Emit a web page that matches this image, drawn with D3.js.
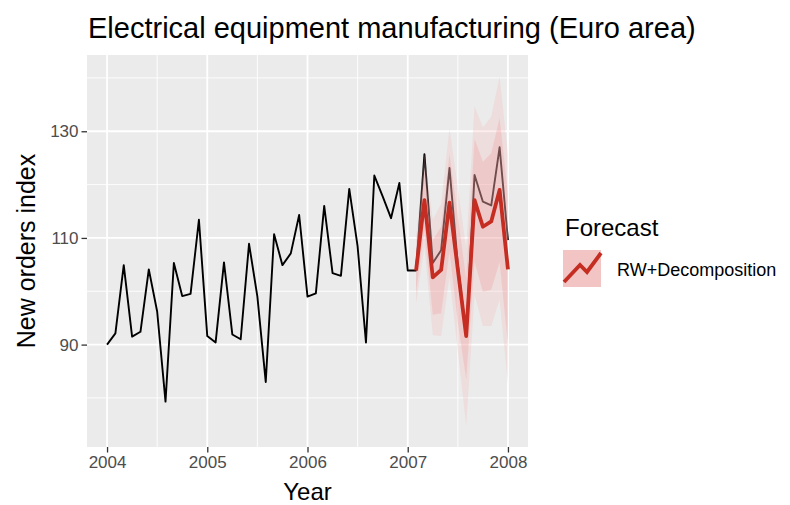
<!DOCTYPE html>
<html>
<head>
<meta charset="utf-8">
<script src="https://cdn.jsdelivr.net/npm/d3@7"></script>
<style>
  body { margin: 0; background: #fff; }
  text { font-family: "Liberation Sans", Arial, sans-serif; }
</style>
</head>
<body>
<div id="chart"></div>
<script>
// observed series, monthly Jan 2004 - Jan 2008
var actual = [
  90.0, 92.1, 104.9, 91.5, 92.4, 104.1, 96.2, 79.3, 105.3, 99.1, 99.5, 113.4,
  91.6, 90.4, 105.4, 91.9, 91.0, 108.9, 99.0, 83.0, 110.7, 104.9, 107.1, 114.3,
  99.0, 99.6, 116.0, 103.4, 102.9, 119.2, 108.4, 90.4, 121.7, 117.8, 113.7, 120.3,
  103.9, 103.9, 125.7, 105.3, 107.7, 123.1, 105.0, 92.0, 121.8, 116.8, 116.1, 127.0,
  109.6
];
// forecast Feb 2007 - Jan 2008
var fcMean = [103.9, 117.1, 102.6, 104.0, 116.6, 104.1, 91.6, 117.1, 112.1, 113.1, 119.0, 104.1];
var lo80 = [99.8, 111.4, 95.6, 95.9, 107.5, 94.2, 83.5, 105.6, 99.9, 100.3, 105.5, 90.0];
var hi80 = [108.0, 122.8, 109.6, 112.1, 125.7, 114.0, 102.3, 128.6, 124.3, 125.9, 132.5, 118.2];
var lo95 = [97.7, 108.3, 91.8, 91.6, 102.7, 88.9, 74.8, 99.5, 93.5, 93.5, 98.4, 82.6];
var hi95 = [110.1, 125.9, 113.4, 116.4, 130.5, 119.3, 108.0, 134.7, 130.7, 132.7, 140.2, 125.6];

var xTicks = [2004, 2005, 2006, 2007, 2008];
var yTicks = [90, 110, 130];
var seriesName = "RW+Decomposition";

var width = 790, height = 505;
var panel = {left: 87, right: 528, top: 55, bottom: 447};

var svg = d3.select("#chart").append("svg")
  .attr("width", width)
  .attr("height", height);

svg.append("rect").attr("width", width).attr("height", height).attr("fill", "#fff");

var x = d3.scaleLinear().domain([2003.8, 2008.2]).range([panel.left, panel.right]);
var y = d3.scaleLinear().domain([70.8, 144.3]).range([panel.bottom, panel.top]);

var obs = actual.map(function(v, i) { return {t: 2004 + i / 12, v: v}; });
var fc = fcMean.map(function(v, i) {
  return {t: 2007 + (i + 1) / 12, v: v, l80: lo80[i], h80: hi80[i], l95: lo95[i], h95: hi95[i]};
});

// panel background + grid
svg.append("rect")
  .attr("x", panel.left).attr("y", panel.top)
  .attr("width", panel.right - panel.left).attr("height", panel.bottom - panel.top)
  .attr("fill", "#EBEBEB");

var g = svg.append("g");
var minorX = [2004.5, 2005.5, 2006.5, 2007.5];
var minorY = [80, 100, 120, 140];

g.selectAll(".minx").data(minorX).enter().append("line")
  .attr("x1", function(d) { return x(d); }).attr("x2", function(d) { return x(d); })
  .attr("y1", panel.top).attr("y2", panel.bottom)
  .attr("stroke", "#fff").attr("stroke-width", 0.9);
g.selectAll(".miny").data(minorY).enter().append("line")
  .attr("y1", function(d) { return y(d); }).attr("y2", function(d) { return y(d); })
  .attr("x1", panel.left).attr("x2", panel.right)
  .attr("stroke", "#fff").attr("stroke-width", 0.9);
g.selectAll(".majx").data(xTicks).enter().append("line")
  .attr("x1", function(d) { return x(d); }).attr("x2", function(d) { return x(d); })
  .attr("y1", panel.top).attr("y2", panel.bottom)
  .attr("stroke", "#fff").attr("stroke-width", 1.8);
g.selectAll(".majy").data(yTicks).enter().append("line")
  .attr("y1", function(d) { return y(d); }).attr("y2", function(d) { return y(d); })
  .attr("x1", panel.left).attr("x2", panel.right)
  .attr("stroke", "#fff").attr("stroke-width", 1.8);

// actual series
var line = d3.line().x(function(d) { return x(d.t); }).y(function(d) { return y(d.v); });
g.append("path").datum(obs)
  .attr("d", line)
  .attr("fill", "none")
  .attr("stroke", "#000")
  .attr("stroke-width", 1.9)
  .attr("stroke-linejoin", "round");

// prediction intervals
var area95 = d3.area().x(function(d) { return x(d.t); })
  .y0(function(d) { return y(d.l95); }).y1(function(d) { return y(d.h95); });
var area80 = d3.area().x(function(d) { return x(d.t); })
  .y0(function(d) { return y(d.l80); }).y1(function(d) { return y(d.h80); });

g.append("path").datum(fc).attr("d", area95)
  .attr("fill", "#F4B0B0").attr("fill-opacity", 0.24);
g.append("path").datum(fc).attr("d", area80)
  .attr("fill", "#F29C9C").attr("fill-opacity", 0.3);

g.append("path").datum(fc)
  .attr("d", line)
  .attr("fill", "none")
  .attr("stroke", "#C62D22")
  .attr("stroke-width", 3.8)
  .attr("stroke-linejoin", "round");

// axes
var xAxis = svg.append("g")
  .attr("transform", "translate(0," + panel.bottom + ")")
  .call(d3.axisBottom(x).tickValues(xTicks).tickFormat(d3.format("d")).tickSize(5.5).tickPadding(3));
var yAxis = svg.append("g")
  .attr("transform", "translate(" + panel.left + ",0)")
  .call(d3.axisLeft(y).tickValues(yTicks).tickSize(5.5).tickPadding(3));

[xAxis, yAxis].forEach(function(a) {
  a.select(".domain").remove();
  a.selectAll(".tick line").attr("stroke", "#333").attr("stroke-width", 1.3);
  a.selectAll(".tick text").attr("fill", "#4D4D4D").style("font-size", "17px")
    .style("font-family", "'Liberation Sans', Arial, sans-serif");
});

// titles
svg.append("text").text("Electrical equipment manufacturing (Euro area)")
  .attr("x", 88).attr("y", 38)
  .attr("font-size", "29px").attr("fill", "#000");

svg.append("text").text("Year")
  .attr("x", (panel.left + panel.right) / 2).attr("y", 500)
  .attr("text-anchor", "middle")
  .attr("font-size", "24px").attr("fill", "#000");

svg.append("text").text("New orders index")
  .attr("transform", "translate(35," + ((panel.top + panel.bottom) / 2) + ") rotate(-90)")
  .attr("text-anchor", "middle")
  .attr("font-size", "25px").attr("fill", "#000");

// legend
var leg = svg.append("g").attr("transform", "translate(563,0)");
leg.append("text").text("Forecast")
  .attr("x", 2).attr("y", 236)
  .attr("font-size", "24px").attr("fill", "#000");
leg.append("rect")
  .attr("x", 0).attr("y", 250).attr("width", 38).attr("height", 37)
  .attr("fill", "#F2C4C4");
var keyPts = [[1, 282], [17, 265], [24, 272], [38, 253]];
leg.append("path")
  .attr("d", d3.line()(keyPts))
  .attr("fill", "none")
  .attr("stroke", "#C62D22")
  .attr("stroke-width", 3.8);
leg.append("text").text(seriesName)
  .attr("x", 54).attr("y", 276)
  .attr("font-size", "18px").attr("fill", "#000");
</script>
</body>
</html>
